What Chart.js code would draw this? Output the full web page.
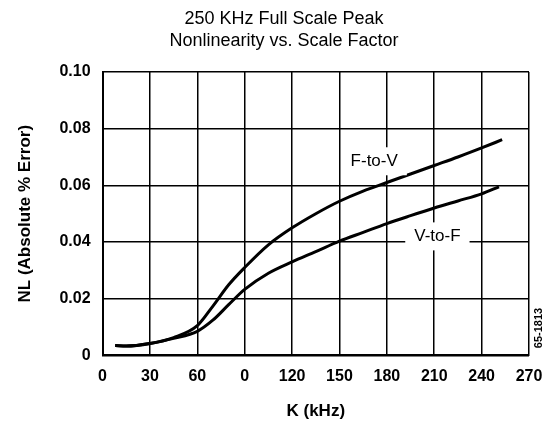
<!DOCTYPE html>
<html>
<head>
<meta charset="UTF-8">
<title>250 KHz Full Scale Peak Nonlinearity vs. Scale Factor</title>
<script src="https://cdn.jsdelivr.net/npm/chart.js"></script>
<style>
  html, body { margin: 0; padding: 0; background: #fff; }
  #wrap { width: 544px; height: 423px; position: relative; }
</style>
</head>
<body>
<div id="wrap"><canvas id="nlChart"></canvas></div>
<script>
// values (K in kHz, NL in absolute % error)
const fToVK  = [8, 15, 30, 45, 60, 70, 80, 90, 105, 120, 135, 150, 165, 180, 195, 210, 225, 240, 253];
const fToVNL = [0.0035, 0.0033, 0.0042, 0.0063, 0.0105, 0.0175, 0.025, 0.031, 0.039, 0.045, 0.050, 0.0544, 0.058, 0.061, 0.064, 0.067, 0.070, 0.0732, 0.0761];
const vToFK  = [8, 15, 30, 45, 60, 70, 80, 90, 105, 120, 135, 150, 165, 180, 195, 210, 225, 240, 251];
const vToFNL = [0.0035, 0.0033, 0.0042, 0.006, 0.0085, 0.0125, 0.018, 0.0233, 0.029, 0.033, 0.0366, 0.0403, 0.0434, 0.0465, 0.0493, 0.052, 0.0545, 0.057, 0.0595];

// tick labels as printed (the 90 tick reads "0" in the original)
const xTickLabels = ['0', '30', '60', '0', '120', '150', '180', '210', '240', '270'];
const yTickLabels = ['0', '0.02', '0.04', '0.06', '0.08', '0.10'];

const titleLines = ['250 KHz Full Scale Peak', 'Nonlinearity vs. Scale Factor'];

// curve labels, placed in data units
const curveLabels = [
  { text: 'F-to-V', k: 172, nl: 0.0685 },
  { text: 'V-to-F', k: 212, nl: 0.0420 }
];

const toPoints = (xs, ys) => xs.map((x, i) => ({ x: x, y: ys[i] }));

const extras = {
  id: 'extras',
  afterDatasetsDraw(chart) {
    const c = chart.ctx, xs = chart.scales.x, ys = chart.scales.y;
    c.save();
    c.font = '17px "Liberation Sans", Arial, sans-serif';
    c.textAlign = 'center';
    c.textBaseline = 'middle';
    curveLabels.forEach(l => {
      const px = xs.getPixelForValue(l.k), py = ys.getPixelForValue(l.nl);
      const w = c.measureText(l.text).width + 18;
      c.fillStyle = '#fff';
      c.fillRect(px - w / 2, py - 14, w, 28);
      c.fillStyle = '#000';
      c.fillText(l.text, px, py);
    });
    c.restore();
  },
  afterDraw(chart) {
    const c = chart.ctx;
    c.save();
    c.fillStyle = '#000';
    c.textAlign = 'center';
    c.textBaseline = 'middle';
    c.font = '18px "Liberation Sans", Arial, sans-serif';
    c.fillText(titleLines[0], 284, 19);
    c.fillText(titleLines[1], 284, 41);
    // figure number on the right edge
    c.translate(539, 328);
    c.rotate(-Math.PI / 2);
    c.font = 'bold 11px "Liberation Sans", Arial, sans-serif';
    c.fillText('65-1813', 0, 0);
    c.restore();
  }
};

new Chart(document.getElementById('nlChart'), {
  type: 'line',
  data: {
    datasets: [
      { label: 'F-to-V', data: toPoints(fToVK, fToVNL) },
      { label: 'V-to-F', data: toPoints(vToFK, vToFNL) }
    ]
  },
  options: {
    responsive: true,
    maintainAspectRatio: false,
    animation: false,
    layout: { padding: { top: 72, left: 10, right: 0, bottom: 0 } },
    elements: {
      line: { borderColor: '#000', borderWidth: 3, cubicInterpolationMode: 'monotone', fill: false },
      point: { radius: 0 }
    },
    plugins: { legend: { display: false }, tooltip: { enabled: false }, title: { display: false } },
    scales: {
      x: {
        type: 'linear', min: 0, max: 270,
        border: { color: '#000', width: 2 },
        grid: { color: '#000', lineWidth: 1.5, drawTicks: false },
        ticks: {
          stepSize: 30, padding: 12, color: '#000',
          font: { family: '"Liberation Sans", Arial, sans-serif', size: 16, weight: 'bold' },
          callback: (v, i) => xTickLabels[i]
        },
        title: {
          display: true, text: 'K (kHz)', color: '#000',
          font: { family: '"Liberation Sans", Arial, sans-serif', size: 17, weight: 'bold' },
          padding: { top: 3, bottom: 1 }
        },
        afterFit: s => { s.paddingRight = 15; }
      },
      y: {
        min: 0, max: 0.10,
        border: { color: '#000', width: 2 },
        grid: { color: '#000', lineWidth: 1.5, drawTicks: false },
        ticks: {
          stepSize: 0.02, padding: 12, color: '#000',
          font: { family: '"Liberation Sans", Arial, sans-serif', size: 16, weight: 'bold' },
          callback: (v, i) => yTickLabels[i]
        },
        title: {
          display: true, text: 'NL (Absolute % Error)', color: '#000',
          font: { family: '"Liberation Sans", Arial, sans-serif', size: 17, weight: 'bold' },
          padding: { top: 5, bottom: 12 }
        }
      }
    }
  },
  plugins: [extras]
});
</script>
</body>
</html>
